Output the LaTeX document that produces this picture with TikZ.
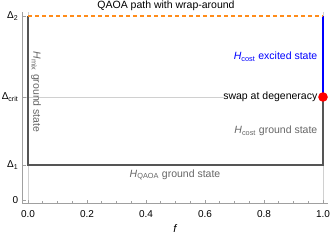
\documentclass[tikz,border=0pt]{standalone}
\usepackage{fontspec}
\setmainfont{Liberation Sans}
\definecolor{pathgray}{HTML}{555555}
\definecolor{lblgray}{HTML}{666666}
\definecolor{axgray}{HTML}{A0A0A0}
\definecolor{gridgray}{HTML}{D0D0D0}
\definecolor{orng}{HTML}{FF8C1A}
\definecolor{myblue}{HTML}{0000FF}
\definecolor{myred}{HTML}{FF0000}
\newcommand\Hsub[2]{\textit{#1}\textsubscript{#2}}
\begin{document}
\begin{tikzpicture}[x=1pt,y=-1pt,
  txt/.style={font=\fontsize{10.5}{12}\selectfont, inner sep=0.5pt},
  ticklbl/.style={font=\fontsize{10}{12}\selectfont, inner sep=0.5pt},
  axisline/.style={draw=axgray, line width=0.6pt},
  gridline/.style={draw=gridgray, line width=0.6pt},
  pathline/.style={line width=2pt, line cap=butt},
  tickmark/.style={draw=axgray, line width=0.6pt}]
\useasboundingbox (0,0) rectangle (332,242);
% coordinates
\coordinate (A) at (28,16);
\coordinate (B) at (28,165);
\coordinate (C) at (323,165);
\coordinate (D) at (323,97);
\coordinate (E) at (323,16);
% grid
\coordinate (gl) at (22,97);
\coordinate (gr) at (328,97);
\draw[gridline] (gl) -- (gr);
\coordinate (v0t) at (28,12);
\coordinate (v0b) at (28,203);
\coordinate (v1t) at (323,12);
\coordinate (v1b) at (323,203);
\draw[gridline] (v0t) -- (v0b);
\draw[gridline] (v1t) -- (v1b);
% axes
\coordinate (O) at (22,203);
\coordinate (Ytop) at (22,12);
\coordinate (Xend) at (328,203);
\draw[axisline] (Ytop) -- (O) -- (Xend);
% x ticks
\foreach \i in {0,...,20}{
  \pgfmathsetmacro\xx{28+295*\i/20}
  \pgfmathtruncatemacro\m{mod(\i,4)}
  \ifnum\m=0
    \draw[tickmark] (\xx,203) -- (\xx,199.5);
  \else
    \draw[tickmark] (\xx,203) -- (\xx,201);
  \fi
}
\foreach \v/\l in {0/0.0,0.2/0.2,0.4/0.4,0.6/0.6,0.8/0.8,1/1.0}{
  \node[ticklbl] (xt\l) at ({28+295*\v},214) {\l};
}
% y ticks
\foreach \yy/\nm in {16/d2,97/dc,165/d1,200/z}{
  \draw[tickmark] (22,\yy) -- (25.5,\yy);
}
\node[ticklbl, anchor=east] (yd2) at (19,16) {Δ\textsubscript{2}};
\node[ticklbl, anchor=east] (ydc) at (19,97) {Δ\textsubscript{crit}};
\node[ticklbl, anchor=east] (yd1) at (19,165) {Δ\textsubscript{1}};
\node[ticklbl, anchor=east] (yz) at (19,200) {0};
\node[txt, font=\fontsize{11}{12}\selectfont\itshape] (flbl) at (175,229) {f};
% title
\node[txt] (title) at (166,6) {QAOA path with wrap-around};
% paths
\draw[pathline, draw=pathgray] (A) -- (B) -- (C) -- (D);
\draw[pathline, draw=myblue] (D) -- (E);
\draw[pathline, draw=orng, dash pattern=on 4pt off 3pt] (A) -- (E);
% labels
\node[txt, text=lblgray, rotate=-90] (hmix) at (36,92) {\Hsub{H}{mix} ground state};
\node[txt, text=myblue, anchor=east] (hce) at (318,57) {\Hsub{H}{cost} excited state};
\node[txt, fill=white, anchor=east] (swap) at (318,97) {swap at degeneracy};
\node[txt, text=lblgray, anchor=east] (hcg) at (318,131) {\Hsub{H}{cost} ground state};
\node[txt, text=lblgray] (hq) at (175,175) {\Hsub{H}{QAOA} ground state};
\fill[myred] (D) circle (4.8);
\end{tikzpicture}
\end{document}
